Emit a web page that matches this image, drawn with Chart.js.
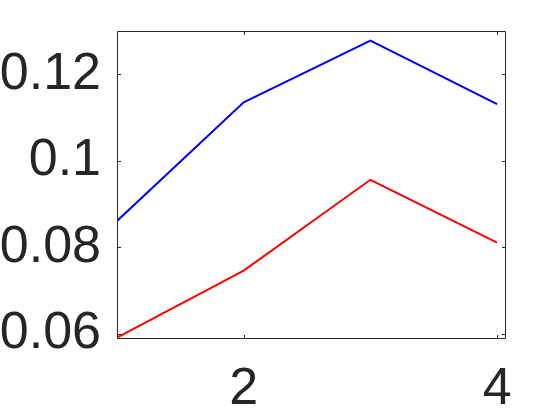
<!DOCTYPE html>
<html>
<head>
<meta charset="utf-8">
<script src="https://cdn.jsdelivr.net/npm/chart.js@4.4.0/dist/chart.umd.min.js"></script>
<style>
  html, body { margin: 0; padding: 0; background: #fff; }
  #wrap { width: 560px; height: 420px; }
</style>
</head>
<body>
<div id="wrap"><canvas id="lineChart" width="560" height="420"></canvas></div>
<script>
// 데이터 - 그림에서 읽은 값
const xValues = [1, 2, 3, 4];
const blueValues = [0.0861, 0.1135, 0.1278, 0.1131];
const redValues = [0.0591, 0.0746, 0.0956, 0.0811];
const xTickValues = [2, 4];
const xTickLabels = ['2', '4'];
const yTickValues = [0.06, 0.08, 0.1, 0.12];
const yTickLabels = ['0.06', '0.08', '0.1', '0.12'];

const axisColor = '#262626';
const labelFont = { family: '"Liberation Sans", Arial, sans-serif', size: 52 };

// MATLAB 스타일 박스 + 안쪽 눈금
const boxPlugin = {
  id: 'matlabBox',
  afterDatasetsDraw(chart) {
    const { ctx, chartArea: a, scales } = chart;
    const tick = 4;
    ctx.save();
    ctx.strokeStyle = axisColor;
    ctx.lineWidth = 1;
    ctx.beginPath();
    ctx.rect(a.left + 0.5, a.top + 0.5, a.right - a.left - 1, a.bottom - a.top - 1);
    scales.x.ticks.forEach(t => {
      const px = Math.round(scales.x.getPixelForValue(t.value)) + 0.5;
      ctx.moveTo(px, a.bottom); ctx.lineTo(px, a.bottom - tick);
      ctx.moveTo(px, a.top); ctx.lineTo(px, a.top + tick);
    });
    scales.y.ticks.forEach(t => {
      const py = Math.round(scales.y.getPixelForValue(t.value)) + 0.5;
      ctx.moveTo(a.left, py); ctx.lineTo(a.left + tick, py);
      ctx.moveTo(a.right, py); ctx.lineTo(a.right - tick, py);
    });
    ctx.stroke();
    ctx.restore();
  }
};

const lineCtx = document.getElementById('lineChart').getContext('2d');
window.lineChartInst = new Chart(lineCtx, {
  type: 'line',
  data: {
    labels: xValues,
    datasets: [
      { data: xValues.map((x, i) => ({ x, y: blueValues[i] })), borderColor: '#0000FF', borderWidth: 2, pointRadius: 0, tension: 0, fill: false },
      { data: xValues.map((x, i) => ({ x, y: redValues[i] })), borderColor: '#FF0000', borderWidth: 2, pointRadius: 0, tension: 0, fill: false }
    ]
  },
  options: {
    responsive: false,
    animation: false,
    layout: { padding: { left: 0, top: 31, right: 54, bottom: 0 } },
    plugins: { legend: { display: false }, tooltip: { enabled: false } },
    scales: {
      x: {
        type: 'linear', min: 1, max: 4.07,
        afterBuildTicks: s => { s.ticks = xTickValues.map(v => ({ value: v })); },
        afterFit: s => { s.height = 81; s.paddingLeft = 0; s.paddingRight = 0; },
        grid: { display: false, drawTicks: false },
        border: { display: false },
        ticks: { font: labelFont, color: axisColor, padding: 19, maxRotation: 0, autoSkip: false,
          callback: v => xTickLabels[xTickValues.indexOf(v)] }
      },
      y: {
        type: 'linear', min: 0.0588, max: 0.1300,
        afterBuildTicks: s => { s.ticks = yTickValues.map(v => ({ value: v })); },
        afterFit: s => { s.width = 117; s.paddingTop = 0; s.paddingBottom = 0; },
        grid: { display: false, drawTicks: false },
        border: { display: false },
        ticks: { font: labelFont, color: axisColor, padding: 16, autoSkip: false,
          callback: v => yTickLabels[yTickValues.indexOf(v)] }
      }
    }
  },
  plugins: [boxPlugin]
});
</script>
</body>
</html>
